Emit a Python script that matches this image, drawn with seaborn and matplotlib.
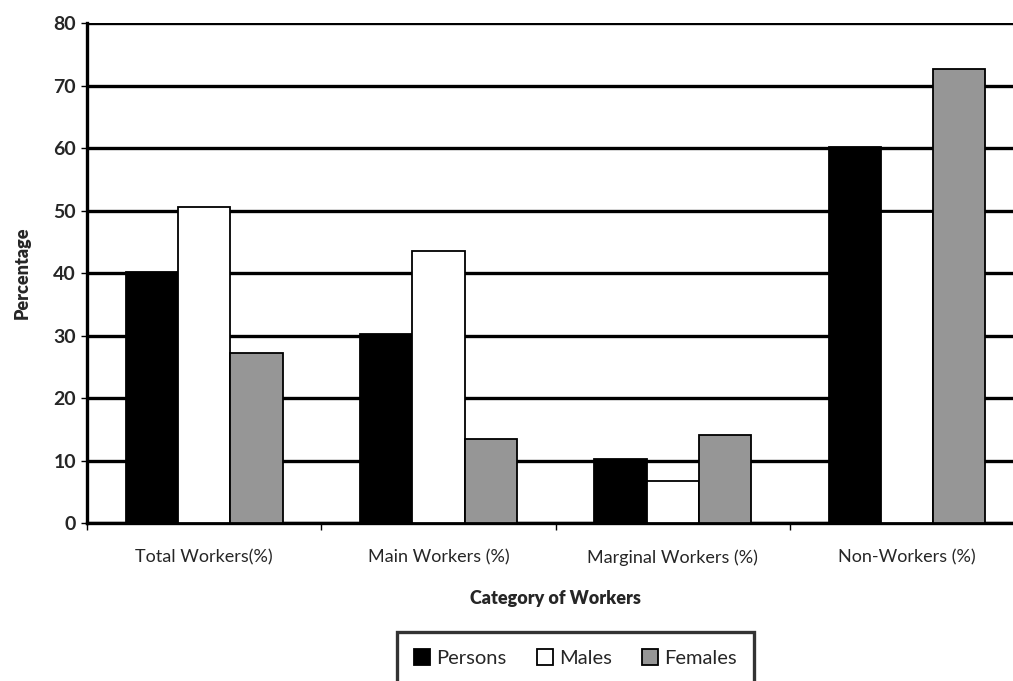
import pandas as pd
import matplotlib.pyplot as plt
import seaborn as sns

# Values
categories = ['Total Workers(%)', 'Main Workers (%)', 'Marginal Workers (%)', 'Non-Workers (%)']
persons = [40.1, 30.2, 10.2, 60.2]
males = [50.6, 43.5, 6.7, 49.8]
females = [27.2, 13.4, 14.1, 72.6]
groups = ['Persons', 'Males', 'Females']

df = pd.DataFrame({
    'Category': categories * 3,
    'Group': [g for g in groups for _ in categories],
    'Value': persons + males + females,
})

sns.set_theme(style='white')
plt.rcParams['font.family'] = ['Lato', 'DejaVu Sans']

fig = plt.figure(figsize=(10.13, 6.81), dpi=100)
ax = fig.add_axes([0.086, 0.232, 0.925, 0.734])

palette = {'Persons': '#000000', 'Males': '#ffffff', 'Females': '#969696'}
sns.barplot(data=df, x='Category', y='Value', hue='Group', palette=palette,
            width=0.67, edgecolor='black', linewidth=1.3, ax=ax, legend=True,
            zorder=3)

ax.set_ylim(0, 80)
ax.set_yticks(range(0, 81, 10))
ax.set_xlim(-0.5, 3.5)
ax.yaxis.grid(True, color='black', linewidth=2.4, zorder=0)
ax.set_axisbelow(True)

for side in ['top', 'right']:
    ax.spines[side].set_visible(False)
ax.spines['left'].set_linewidth(2.4)
ax.spines['bottom'].set_linewidth(2.4)
ax.spines['left'].set_color('black')
ax.spines['bottom'].set_color('black')

ax.tick_params(axis='y', left=True, length=4, width=1, color='black',
               labelsize=14, pad=4)
ax.tick_params(axis='x', bottom=False, labelsize=13, pad=13)
ax.set_xticks([-0.5, 0.5, 1.5, 2.5], minor=True)
ax.tick_params(axis='x', which='minor', bottom=True, length=5, width=1, color='black')
for lbl in ax.get_yticklabels():
    lbl.set_fontweight('bold')

ax.set_ylabel('Percentage', fontsize=13, fontweight='heavy', labelpad=16)
ax.set_xlabel('Category of Workers', fontsize=13, fontweight='heavy', labelpad=17)

handles, labels = ax.get_legend_handles_labels()
ax.legend(handles, labels, loc='upper center', bbox_to_anchor=(0.521, -0.218),
          ncol=3, frameon=True, fancybox=False, edgecolor='black',
          fontsize=14.5, handlelength=0.8, handleheight=0.8, handletextpad=0.3,
          columnspacing=1.5, borderpad=0.85, borderaxespad=0)
ax.get_legend().get_frame().set_linewidth(2.4)

fig.savefig('out.png', dpi=100)
